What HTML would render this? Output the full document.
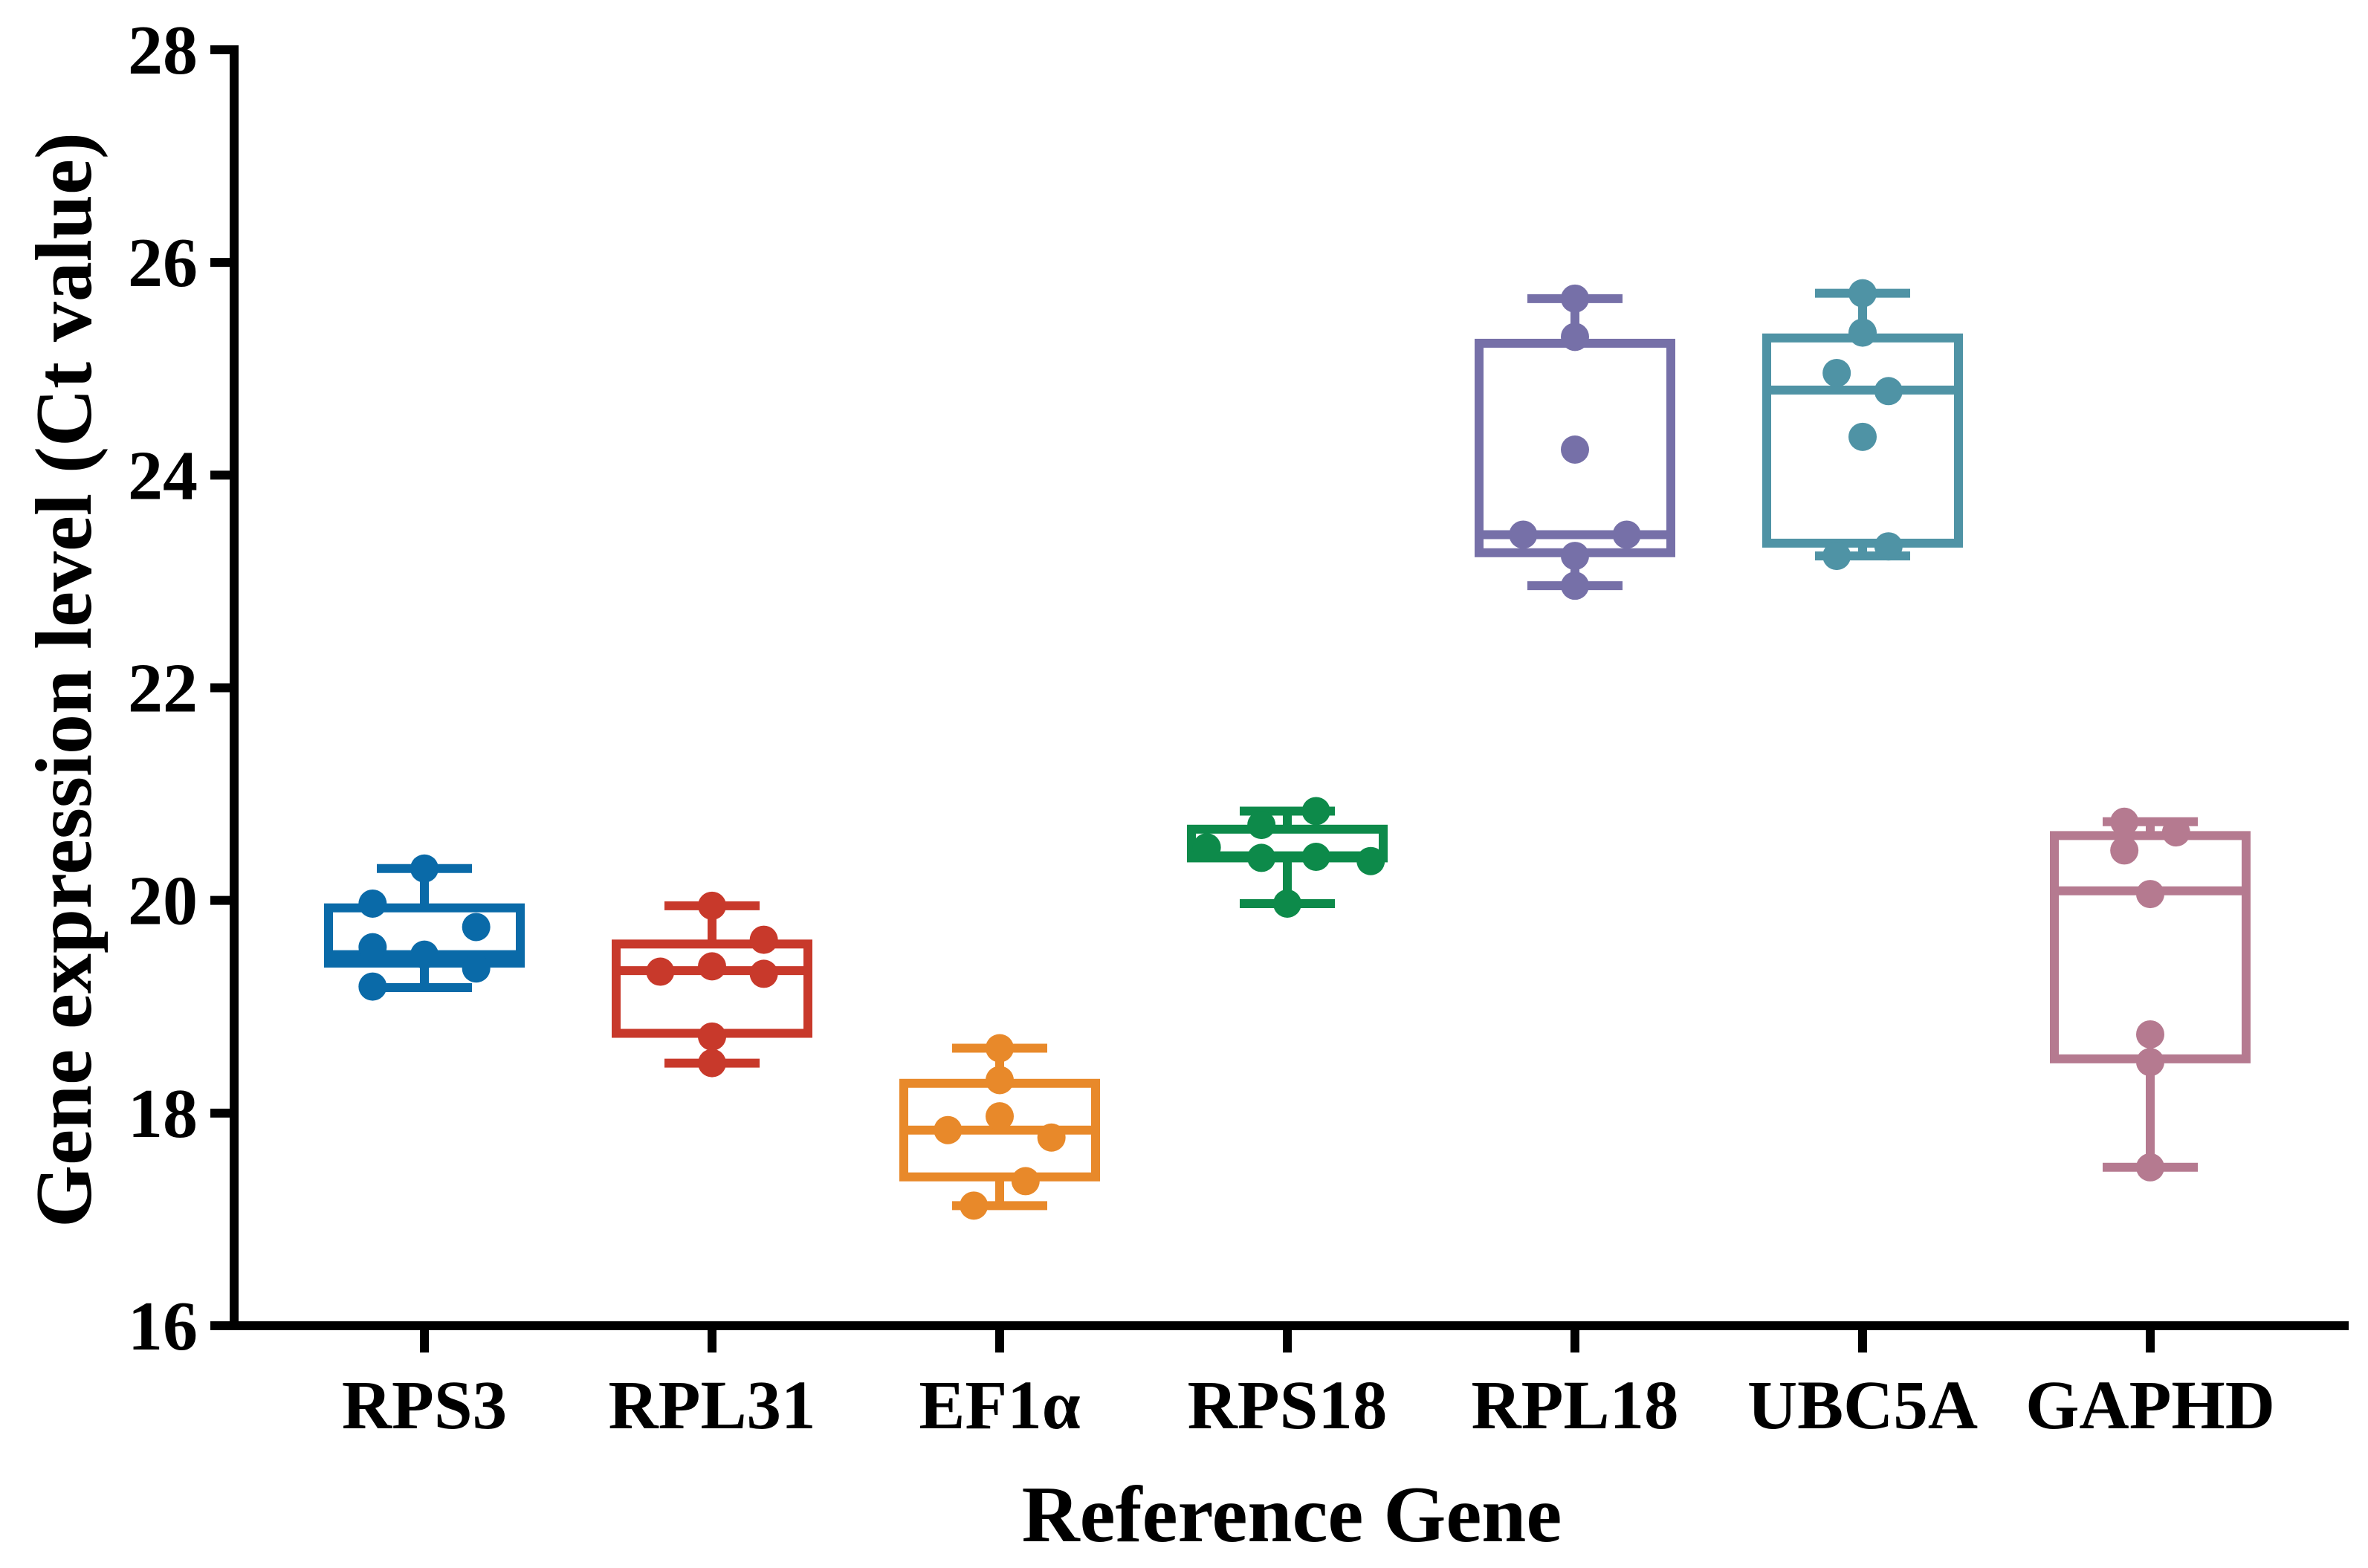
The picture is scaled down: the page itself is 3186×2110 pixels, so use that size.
<!DOCTYPE html>
<html><head><meta charset="utf-8"><style>
html,body{margin:0;padding:0;background:#fff;}
svg{display:block;}
text{font-family:"Liberation Serif",serif;font-weight:bold;fill:#000;}
</style></head><body>
<svg id="chart" width="3186" height="2110" viewBox="0 0 3186 2110">
<g id="axes"></g>
<g id="marks"></g>
<text x="1738" y="2074" text-anchor="middle" font-size="108">Reference Gene</text>
<text transform="translate(122,915) rotate(-90)" text-anchor="middle" font-size="108">Gene expression level (Ct value)</text>
</svg>
<script>
const categories = ["RPS3","RPL31","EF1\u03b1","RPS18","RPL18","UBC5A","GAPHD"];
const colors = ["#0a6aa8","#c8392b","#e8892a","#0d8a4a","#7670a8","#4f93a5","#b57a90"];
const q1 = [19.41,18.75,17.40,20.40,23.27,23.36,18.51];
const q3 = [19.93,19.59,18.28,20.67,25.24,25.29,20.61];
const medians = [19.49,19.34,17.84,20.42,23.44,24.80,20.09];
const whiskerLow = [19.18,18.47,17.13,19.97,22.96,23.24,17.49];
const whiskerHigh = [20.30,19.95,18.61,20.84,25.66,25.71,20.74];
const pointValues = [
 [20.30,19.97,19.75,19.56,19.49,19.36,19.19],
 [19.95,19.63,19.33,19.38,19.31,18.72,18.47],
 [18.61,18.31,17.97,17.84,17.77,17.36,17.13],
 [20.84,20.71,20.50,20.40,20.41,20.37,19.97],
 [25.66,25.30,24.24,23.44,23.44,23.24,22.96],
 [25.71,25.34,24.96,24.79,24.36,23.24,23.33],
 [20.74,20.64,20.47,20.06,18.74,18.48,17.49]
];
const pointJitter = [
 [0,-0.18,0.18,-0.18,0,0.18,-0.18],
 [0,0.18,-0.18,0,0.18,0,0],
 [0,0,0,-0.18,0.18,0.09,-0.09],
 [0.1,-0.09,-0.28,-0.09,0.1,0.29,0],
 [0,0,0,-0.18,0.18,0,0],
 [0,0,-0.09,0.09,0,-0.09,0.09],
 [-0.09,0.09,-0.09,0,0,0,0]
];
const yTicks = [16,18,20,22,24,26,28];

const NS="http://www.w3.org/2000/svg";
const X0=315, Y_TOP=67, Y_BOT=1784, XEND=3160;
const yMin=16, yMax=28;
function yScale(v){return Y_BOT-(v-yMin)/(yMax-yMin)*(Y_BOT-Y_TOP);}
const catStart=571, catStep=387;
function xScale(i){return catStart+i*catStep;}
function mk(tag,attrs,parent){const e=document.createElementNS(NS,tag);for(const k in attrs)e.setAttribute(k,attrs[k]);parent.appendChild(e);return e;}
const axes=document.getElementById('axes'), marks=document.getElementById('marks');

let e=mk('line',{x1:X0,y1:Y_TOP-6,x2:X0,y2:Y_BOT+6,stroke:'#000','stroke-width':12},axes);


e=mk('line',{x1:X0-6,y1:Y_BOT,x2:XEND,y2:Y_BOT,stroke:'#000','stroke-width':12},axes);


yTicks.forEach(t=>{
 const y=yScale(t);
 let l=mk('line',{x1:X0-32,y1:y,x2:X0,y2:y,stroke:'#000','stroke-width':12},axes);
 
 
 let tx=mk('text',{x:266,y:y+32,'text-anchor':'end','font-size':94},axes);
 tx.textContent=t;
 
 
});
categories.forEach((c,i)=>{
 const x=xScale(i);
 let l=mk('line',{x1:x,y1:Y_BOT,x2:x,y2:Y_BOT+36,stroke:'#000','stroke-width':12},axes);
 
 
 let tx=mk('text',{x:x,y:1922,'text-anchor':'middle','font-size':93},axes);
 tx.textContent=c;
 
 

 const col=colors[i];
 const g=mk('g',{},marks);
 
 
 const bw=129, cw=64, sw=12;
 mk('line',{x1:x,y1:yScale(whiskerHigh[i]),x2:x,y2:yScale(q3[i]),stroke:col,'stroke-width':sw},g);
 mk('line',{x1:x,y1:yScale(whiskerLow[i]),x2:x,y2:yScale(q1[i]),stroke:col,'stroke-width':sw},g);
 mk('line',{x1:x-cw,y1:yScale(whiskerHigh[i]),x2:x+cw,y2:yScale(whiskerHigh[i]),stroke:col,'stroke-width':sw},g);
 mk('line',{x1:x-cw,y1:yScale(whiskerLow[i]),x2:x+cw,y2:yScale(whiskerLow[i]),stroke:col,'stroke-width':sw},g);
 mk('rect',{x:x-bw,y:yScale(q3[i]),width:2*bw,height:yScale(q1[i])-yScale(q3[i]),fill:'none',stroke:col,'stroke-width':sw},g);
 mk('line',{x1:x-bw,y1:yScale(medians[i]),x2:x+bw,y2:yScale(medians[i]),stroke:col,'stroke-width':sw},g);
 pointValues[i].forEach((v,j)=>{
  const p=mk('circle',{cx:x+pointJitter[i][j]*catStep,cy:yScale(v),r:19,fill:col},g);
  
  
 });
});
</script>
</body></html>
